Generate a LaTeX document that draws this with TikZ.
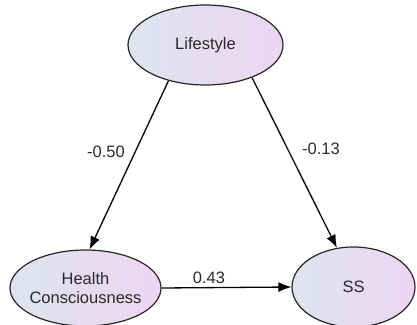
\documentclass[tikz,border=0pt]{standalone}
\usepackage{fontspec}
\setmainfont{Liberation Sans}
\usepackage{xcolor}
\usetikzlibrary{shapes.geometric, arrows.meta}
\definecolor{latleft}{HTML}{DDE4EF}
\definecolor{latright}{HTML}{EDD5F1}
\definecolor{txtgray}{HTML}{2A2A2A}

\begin{document}
\begin{tikzpicture}[x=1pt, y=1pt,
    latent/.style={ellipse, draw=black!85, line width=1.2pt, left color=latleft, right color=latright,
      inner sep=0pt, align=center, text=txtgray, font=\fontsize{16.5}{19.5}\selectfont},
    path/.style={line width=1.3pt, -{Latex[length=13pt, width=10pt]}},
    coef/.style={text=txtgray, font=\fontsize{16.5}{19.5}\selectfont}]
      \useasboundingbox (0,0) rectangle (417,324);
      \node[latent, minimum width=155pt, minimum height=80pt] (life) at (205.5,279) {Lifestyle};
      \node[latent, minimum width=151pt, minimum height=76pt, inner xsep=-5pt] (hc) at (85.5,36) {Health\\Consciousness};
      \node[latent, minimum width=123pt, minimum height=80pt] (ss) at (353.5,37) {SS};
      % paths
      \draw[path] (life.224) -- (hc.84);
      \draw[path] (life.325) -- (ss.113);
      \draw[path] (hc.east) -- (ss.west);
      % coefficients
      \node[coef] (c1) at (106,172) {-0.50};
      \node[coef] (c2) at (321,175) {-0.13};
      \node[coef] (c3) at (209,46) {0.43};
    \end{tikzpicture}
\end{document}
